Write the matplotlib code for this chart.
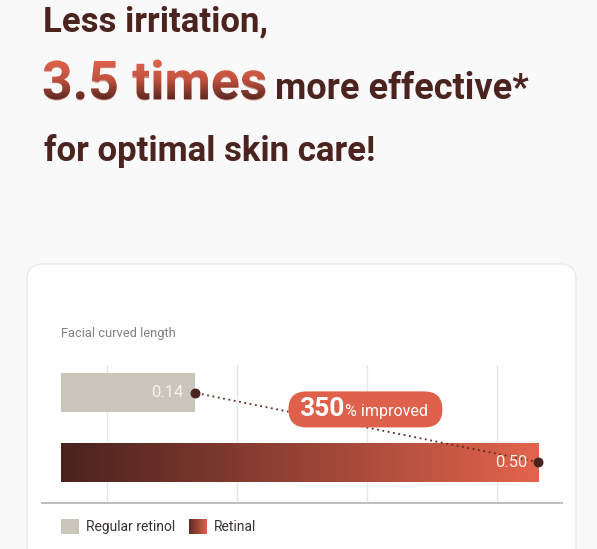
import numpy as np
import matplotlib.pyplot as plt
from matplotlib.patches import FancyBboxPatch, PathPatch, Rectangle
from matplotlib.textpath import TextPath
from matplotlib.font_manager import FontProperties
from matplotlib.transforms import Affine2D, ScaledTranslation
from matplotlib.colors import LinearSegmentedColormap
from matplotlib.legend_handler import HandlerBase

# data
products = ['Retinal', 'Regular retinol']      # bottom -> top
values = [0.50, 0.14]
value_labels = ['0.50', '0.14']
improvement = '350'
metric = 'Facial curved length'
legend_labels = ['Regular retinol', 'Retinal']

W, H, DPI = 597, 549, 100
BROWN = '#4b2420'
CORAL = '#e0614b'
GREY_BAR = '#cbc6bc'
FONT = 'Roboto'

bar_cmap = LinearSegmentedColormap.from_list('retinal', ['#4a221e', '#e3644d'])
text_cmap = LinearSegmentedColormap.from_list('title', ['#e3644d', '#c4533f', '#5a2721'])


def ix(x):  # reference pixel -> inches from left
    return x / DPI


def iy(y):  # reference pixel (from top) -> inches from bottom
    return (H - y) / DPI


fig = plt.figure(figsize=(W / DPI, H / DPI), dpi=DPI, facecolor='#faf9f9')
inch = fig.dpi_scale_trans

# card behind the chart
card = FancyBboxPatch((ix(27), iy(620)), ix(576) - ix(27), iy(264) - iy(620),
                      boxstyle='round,pad=0,rounding_size=0.16', transform=inch,
                      facecolor='white', edgecolor='#ebe9e9', lw=1, zorder=-5)
fig.add_artist(card)

# headline
fig.text(ix(43), iy(31), 'Less irritation,', transform=inch, family=FONT,
         weight='bold', fontsize=25, color=BROWN, va='baseline')
big_size = 38.5
big = fig.text(ix(42), iy(99), '3.5 times', transform=inch, family=FONT,
               weight='bold', fontsize=big_size, color='#b04b3d', alpha=0.6,
               va='baseline')
fig.text(ix(275), iy(99), 'more effective*', transform=inch, family=FONT,
         weight='bold', fontsize=26, color=BROWN, va='baseline')
fig.text(ix(44), iy(161), 'for optimal skin care!', transform=inch, family=FONT,
         weight='bold', fontsize=25, color=BROWN, va='baseline')

# gradient fill on top of "3.5 times"
over = fig.add_axes([0, 0, 1, 1], zorder=10)
over.axis('off')
over.patch.set_alpha(0)
fp = FontProperties(family=FONT, weight='bold')
tp = TextPath((0, 0), '3.5 times', size=big_size, prop=fp)
k = DPI / 72
grad_v = np.linspace(0, 1, 256).reshape(-1, 1)
img = over.imshow(grad_v, cmap=text_cmap, extent=[40, 280, 100, 57], aspect='auto',
                  interpolation='bilinear')
over.set_xlim(0, W)
over.set_ylim(H, 0)
clip = PathPatch(tp, transform=Affine2D().scale(k, -k).translate(42, 99) + over.transData,
                 facecolor='none', edgecolor='none')
over.add_patch(clip)
img.set_clip_path(clip)

# metric label
fig.text(ix(61), iy(337), metric, transform=inch, family=FONT, fontsize=9.3,
         color='#85807e', va='baseline')

# chart
ax = fig.add_axes([ix(42) / ix(W), 1 - 503 / H, (562 - 42) / W, (503 - 365) / H])
ax.set_facecolor('none')
ypos = np.arange(len(products))
bar_h = 0.56
bars = ax.barh(ypos, values, height=bar_h, zorder=2)
bars[1].set_facecolor(GREY_BAR)
bars[0].set_facecolor('none')
grad_h = np.linspace(0, 1, 256).reshape(1, -1)
gimg = ax.imshow(grad_h, cmap=bar_cmap, aspect='auto', zorder=2,
                 extent=[0, values[0], ypos[0] - bar_h / 2, ypos[0] + bar_h / 2])
gimg.set_clip_path(bars[0])

ax.set_xlim(-0.02, 0.525)
ax.set_ylim(-0.59, 1.40)
ax.set_xticks([0.048, 0.184, 0.321, 0.457])
ax.set_yticks([])
ax.tick_params(length=0, labelbottom=False)
ax.grid(axis='x', color='#e9e7e6', lw=1)
ax.set_axisbelow(True)
for s in ['top', 'right', 'left']:
    ax.spines[s].set_visible(False)
ax.spines['bottom'].set_color('#b9b9b9')
ax.spines['bottom'].set_linewidth(1.3)

for v, y, lab in zip(values, ypos, value_labels):
    ax.annotate(lab, (v, y), xytext=(-11, 0), textcoords='offset pixels', ha='right',
                va='center', family=FONT, fontsize=12, color='#f7f2ec', zorder=4)

ax.plot(values, ypos, ls=(0, (1, 2)), color='#5e2b25', lw=1.3, zorder=3)
ax.scatter(values, ypos, s=38, color=BROWN, zorder=5, clip_on=False)

# improvement badge, anchored at midpoint of the connector
mid = (np.mean(values), np.mean(ypos))
btrans = inch + ScaledTranslation(mid[0], mid[1], ax.transData)
badge = FancyBboxPatch((ix(-78), 0.0), ix(154), ix(36),
                       boxstyle='round,pad=0,rounding_size=0.18', transform=btrans,
                       facecolor=CORAL, edgecolor='none', zorder=6)
ax.add_patch(badge)
badge.set_clip_on(False)
ax.text(ix(-22), ix(11), improvement, transform=btrans, ha='right', va='baseline',
        family=FONT, weight='bold', fontsize=19, color='white', zorder=7)
ax.text(ix(-21), ix(11), '% improved', transform=btrans, ha='left', va='baseline',
        family=FONT, fontsize=11.5, color='white', zorder=7)


# legend with a gradient swatch
class GradientHandler(HandlerBase):
    def create_artists(self, legend, orig, xd, yd, width, height, fontsize, trans):
        n = 24
        cols = bar_cmap(np.linspace(0.15, 0.95, n))
        return [Rectangle((width * i / n - xd, -yd), width / n + 0.3, height,
                          facecolor=cols[i], edgecolor='none', transform=trans)
                for i in range(n)]


h_grey = Rectangle((0, 0), 1, 1, facecolor=GREY_BAR)
h_grad = Rectangle((0, 0), 1, 1, facecolor=CORAL)
fig.legend([h_grey, h_grad], legend_labels, loc='upper left',
           bbox_to_anchor=(ix(61), iy(519)), bbox_transform=inch,
           ncol=2, frameon=False, borderpad=0, borderaxespad=0,
           prop=FontProperties(family=FONT, size=10), labelcolor='#3a3232',
           handlelength=1.3, handleheight=1.3, handletextpad=0.5, columnspacing=1.0,
           handler_map={h_grad: GradientHandler()})

fig.savefig('out.png', dpi=DPI, facecolor=fig.get_facecolor())
